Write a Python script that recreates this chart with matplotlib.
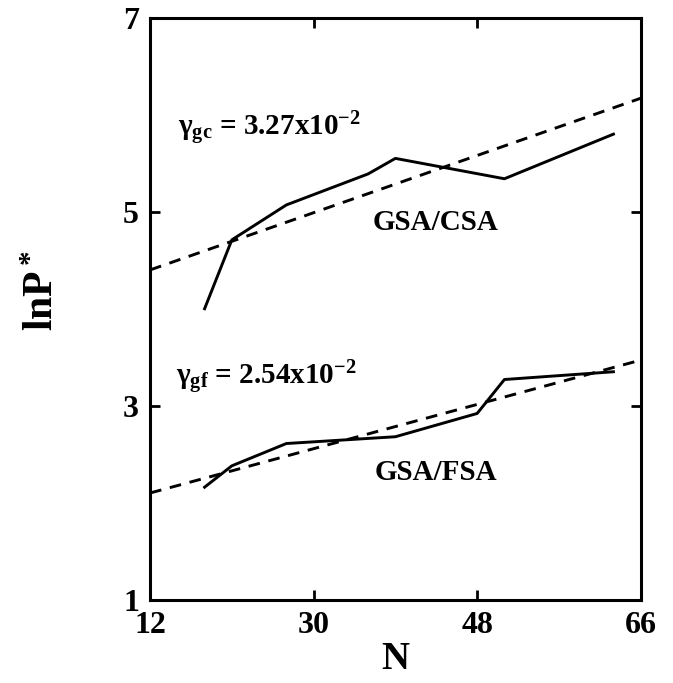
import matplotlib
matplotlib.use("Agg")
from matplotlib import pyplot as plt

# values
n_csa = [18, 21, 27, 36, 39, 51, 63]
lnp_csa = [4.00, 4.71, 5.07, 5.39, 5.55, 5.34, 5.80]
n_fsa = [18, 21, 27, 39, 48, 51, 63]
lnp_fsa = [2.16, 2.38, 2.61, 2.68, 2.92, 3.27, 3.35]

# linear fits (dashed)
fit_n = [12, 66]
fit_csa = [4.40, 6.17]
fit_fsa = [2.10, 3.47]

x_ticks = [12, 30, 48, 66]
y_ticks = [1, 3, 5, 7]

plt.rcParams['font.family'] = 'Liberation Serif'
plt.rcParams['font.weight'] = 'bold'
plt.rcParams['mathtext.fontset'] = 'custom'
plt.rcParams['mathtext.rm'] = 'Liberation Serif:bold'
plt.rcParams['mathtext.it'] = 'Liberation Serif:bold:italic'
plt.rcParams['mathtext.bf'] = 'Liberation Serif:bold'

fig = plt.figure(figsize=(6.73, 6.83), dpi=100)
ax = fig.add_axes([0.223, 0.122, 0.729, 0.852])

ax.plot(n_csa, lnp_csa, color='black', linewidth=2.1)
ax.plot(fit_n, fit_csa, color='black', linewidth=2.1, linestyle=(0, (4, 3)))
ax.plot(n_fsa, lnp_fsa, color='black', linewidth=2.1)
ax.plot(fit_n, fit_fsa, color='black', linewidth=2.1, linestyle=(0, (4, 3)))

ax.set_xlim(12, 66)
ax.set_ylim(1, 7)
ax.set_xticks(x_ticks)
ax.set_yticks(y_ticks)
ax.tick_params(direction='in', length=7, width=2, top=True, right=True,
               labelsize=23, pad=8)
for side in ax.spines.values():
    side.set_linewidth(2.2)

ax.set_xlabel('N', fontsize=28, fontweight='bold', labelpad=1)
ax.set_ylabel('lnP$^*$', fontsize=30, fontweight='bold')
ax.yaxis.set_label_coords(-0.18, 0.53)

ax.text(15.1, 5.86, r'γ$_{\mathrm{gc}}$ = 3.27x10$^{-2}$', fontsize=21,
        fontweight='bold', va='center', ha='left')
ax.text(14.9, 3.29, r'γ$_{\mathrm{gf}}$ = 2.54x10$^{-2}$', fontsize=21,
        fontweight='bold', va='center', ha='left')
ax.text(43.4, 4.89, 'GSA/CSA', fontsize=21, fontweight='bold',
        va='center', ha='center')
ax.text(43.5, 2.31, 'GSA/FSA', fontsize=21, fontweight='bold',
        va='center', ha='center')

fig.savefig('out.png', dpi=100)
